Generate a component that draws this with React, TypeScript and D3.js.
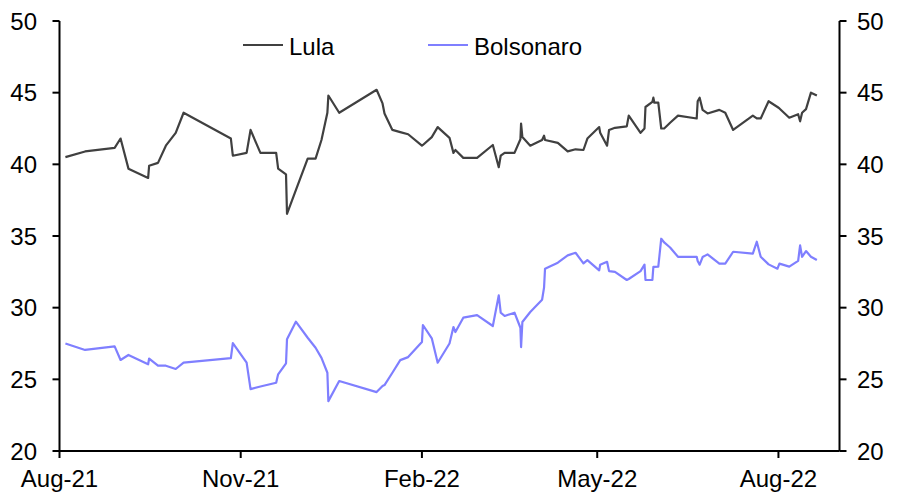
import React from "react";
import * as d3 from "d3";

const dates: string[] = [
  "2021-08-04", "2021-08-14", "2021-08-29", "2021-09-01", "2021-09-05", "2021-09-15", "2021-09-15 12",
  "2021-09-20", "2021-09-24", "2021-09-29", "2021-10-03", "2021-10-27", "2021-10-28", "2021-11-04",
  "2021-11-06", "2021-11-11", "2021-11-19", "2021-11-20", "2021-11-24", "2021-11-24 12", "2021-11-29",
  "2021-12-05", "2021-12-09", "2021-12-12", "2021-12-15", "2021-12-15 12", "2021-12-21", "2022-01-09",
  "2022-01-12", "2022-01-13", "2022-01-17", "2022-01-21", "2022-01-25", "2022-02-01", "2022-02-01 12",
  "2022-02-06", "2022-02-09", "2022-02-15", "2022-02-17", "2022-02-18", "2022-02-22", "2022-03-01",
  "2022-03-09", "2022-03-12", "2022-03-13", "2022-03-15", "2022-03-20", "2022-03-23", "2022-03-23 08",
  "2022-03-24", "2022-03-28", "2022-04-03", "2022-04-04", "2022-04-04 12", "2022-04-11", "2022-04-16",
  "2022-04-20", "2022-04-24", "2022-04-26", "2022-05-02", "2022-05-02 12", "2022-05-06", "2022-05-07",
  "2022-05-10", "2022-05-16", "2022-05-17", "2022-05-23", "2022-05-25", "2022-05-25 12", "2022-05-29",
  "2022-05-29 12", "2022-05-30", "2022-06-01", "2022-06-02 12", "2022-06-04", "2022-06-07", "2022-06-11",
  "2022-06-20 12", "2022-06-21", "2022-06-22", "2022-06-23 12", "2022-06-26", "2022-07-02", "2022-07-05",
  "2022-07-09", "2022-07-19", "2022-07-21", "2022-07-23", "2022-07-27", "2022-07-31 12", "2022-08-01 12",
  "2022-08-06 12", "2022-08-11", "2022-08-12", "2022-08-13", "2022-08-15", "2022-08-17 12", "2022-08-20 12",
];

const lula: number[] = [
  40.5, 40.9, 41.15, 41.8, 39.7, 39.05, 39.9,
  40.1, 41.3, 42.2, 43.6, 41.8, 40.6, 40.8,
  42.4, 40.8, 40.8, 39.7, 39.3, 36.55, 38.2,
  40.4, 40.4, 41.7, 43.6, 44.8, 43.6, 45.2,
  44.25, 43.55, 42.4, 42.25, 42.1, 41.3, 41.35,
  41.9, 42.6, 41.85, 40.8, 41.0, 40.45, 40.45,
  41.35, 39.8, 40.6, 40.8, 40.8, 41.75, 42.85,
  41.9, 41.3, 41.7, 42.0, 41.7, 41.5, 40.9,
  41.05, 41.0, 41.8, 42.6, 42.2, 41.3, 42.4,
  42.55, 42.65, 43.4, 42.2, 42.5, 44.0, 44.35,
  44.65, 44.3, 44.3, 42.5, 42.5, 42.9, 43.4,
  43.2, 44.4, 44.65, 43.8, 43.55, 43.8, 43.6,
  42.4, 43.4, 43.2, 43.2, 44.4, 44.0, 43.9,
  43.25, 43.5, 43.0, 43.6, 43.85, 45.0, 44.8,
];

const bolsonaro: number[] = [
  27.5, 27.05, 27.3, 26.35, 26.7, 26.05, 26.45,
  25.95, 25.95, 25.72, 26.16, 26.48, 27.53, 26.16,
  24.32, 24.5, 24.76, 25.35, 26.12, 27.79, 29.02,
  27.9, 27.2, 26.5, 25.46, 23.48, 24.88, 24.11,
  24.53, 24.6, 25.46, 26.34, 26.55, 27.6, 28.79,
  27.86, 26.16, 27.5, 28.65, 28.3, 29.3, 29.48,
  28.72, 30.86, 29.65, 29.42, 29.65, 28.6, 27.25,
  29.0, 29.7, 30.55, 31.4, 32.72, 33.14, 33.65,
  33.83, 33.09, 33.32, 32.6, 33.0, 33.2, 32.55,
  32.5, 31.93, 32.0, 32.55, 33.0, 31.93, 31.93,
  32.84, 32.84, 32.86, 34.81, 34.55, 34.2, 33.55,
  33.55, 33.25, 33.0, 33.53, 33.72, 33.07, 33.07,
  33.9, 33.77, 34.6, 33.55, 33.02, 32.72, 33.07,
  32.86, 33.26, 34.35, 33.55, 33.95, 33.55, 33.32,
];

const yTicks: number[] = [20, 25, 30, 35, 40, 45, 50];
const xTickDates: string[] = ["2021-08-01", "2021-11-01", "2022-02-01", "2022-05-01", "2022-08-01"];
const seriesNames: string[] = ["Lula", "Bolsonaro"];
const seriesColors: string[] = ["#404040", "#7f7fff"];

const p1 = d3.timeParse("%Y-%m-%d");
const p2 = d3.timeParse("%Y-%m-%d %H");
const parse = (s: string): Date => (p1(s) ?? p2(s)) as Date;
const fmt = d3.timeFormat("%b-%y");

export default function App() {
  const W = 901, H = 498;
  const left = 59.5, right = 839.5, top = 21, bottom = 451;
  const x = d3.scaleTime().domain([parse("2021-08-01"), parse("2022-09-01")]).range([left, right]);
  const y = d3.scaleLinear().domain([20, 50]).range([bottom, top]);
  const xs = dates.map(parse);
  const line = d3.line<number>().x((_, i) => x(xs[i])).y((v) => y(v));
  const series = [lula, bolsonaro];
  const font = "Liberation Sans, Arial, sans-serif";
  const legendX = [243, 428];

  return (
    <svg width={W} height={H} style={{ position: "absolute", left: 0, top: 0, background: "#fff" }} fontFamily={font}>
      {series.map((s, k) => (
        <path key={k} d={line(s) ?? ""} fill="none" stroke={seriesColors[k]} strokeWidth={2.2} strokeLinejoin="round" />
      ))}
      <g stroke="#000" strokeWidth={2} fill="none">
        <line x1={left} x2={left} y1={top} y2={bottom} />
        <line x1={right} x2={right} y1={top} y2={bottom} />
        <line x1={left} x2={right} y1={bottom} y2={bottom} />
        {yTicks.map((t) => (
          <g key={t}>
            <line x1={left - 7} x2={left} y1={y(t)} y2={y(t)} />
            <line x1={right} x2={right + 7} y1={y(t)} y2={y(t)} />
          </g>
        ))}
        {xTickDates.map((d) => (
          <line key={d} x1={x(parse(d))} x2={x(parse(d))} y1={bottom} y2={bottom + 7} />
        ))}
      </g>
      <g fontSize={24} fill="#000">
        {yTicks.map((t) => (
          <g key={t}>
            <text x={37} y={y(t)} textAnchor="end" dominantBaseline="central">{t}</text>
            <text x={857} y={y(t)} textAnchor="start" dominantBaseline="central">{t}</text>
          </g>
        ))}
        {xTickDates.map((d) => (
          <text key={d} x={x(parse(d))} y={487} textAnchor="middle">{fmt(parse(d))}</text>
        ))}
      </g>
      {seriesNames.map((n, k) => (
        <g key={n}>
          <line x1={legendX[k]} x2={legendX[k] + 40} y1={45} y2={45} stroke={seriesColors[k]} strokeWidth={2} />
          <text x={legendX[k] + 46} y={46} fontSize={24} dominantBaseline="central" fill="#000">{n}</text>
        </g>
      ))}
    </svg>
  );
}
